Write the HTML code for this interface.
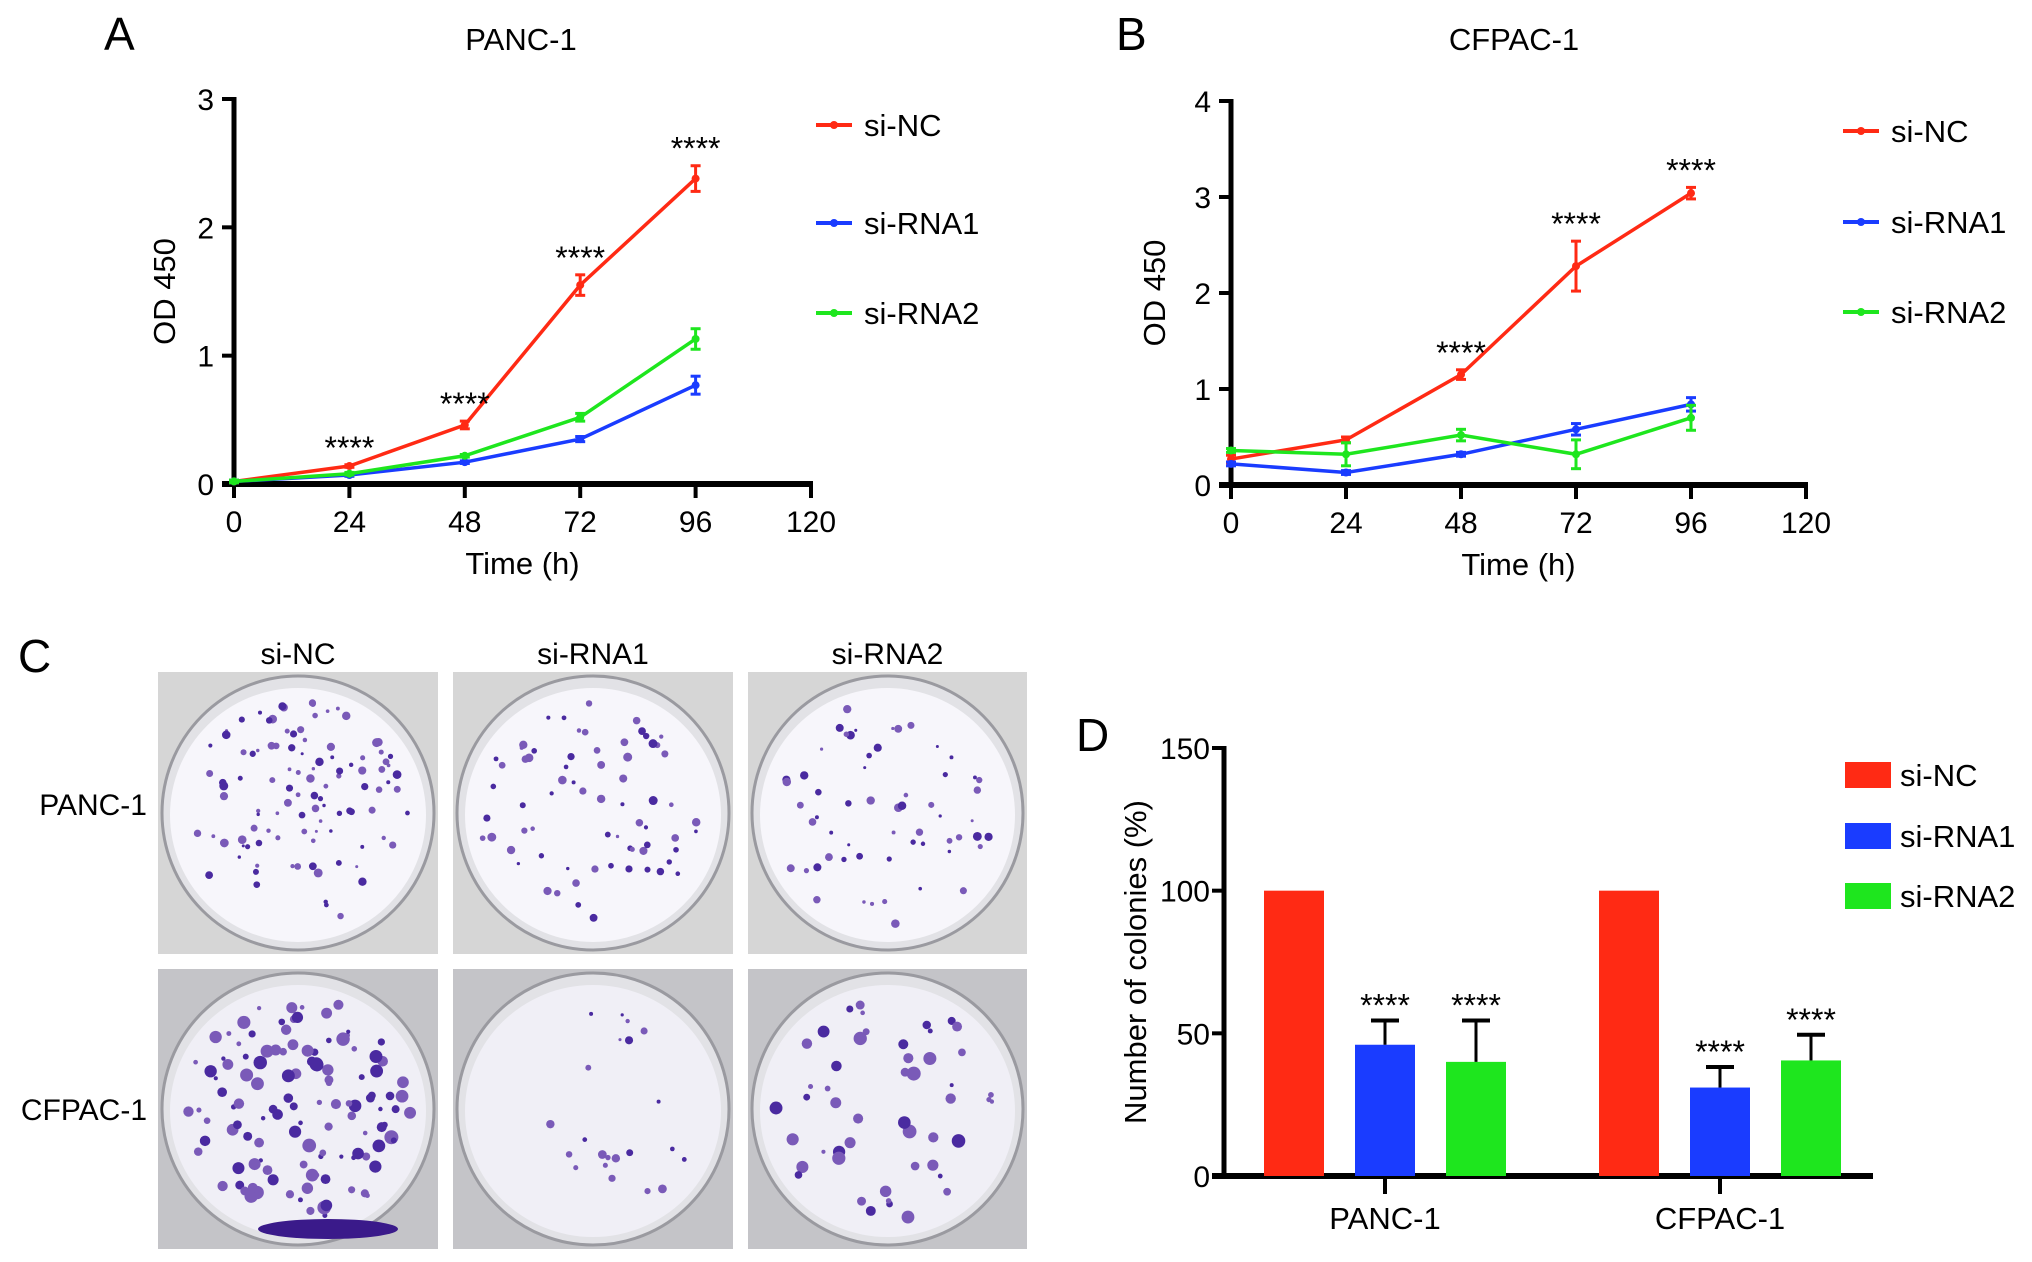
<!DOCTYPE html>
<html><head><meta charset="utf-8"><style>
html,body{margin:0;padding:0;background:#fff}
svg{display:block;font-family:"Liberation Sans",Arial,sans-serif}
</style></head><body>
<svg id="fig" width="2032" height="1262" viewBox="0 0 2032 1262" xmlns="http://www.w3.org/2000/svg">
<g id="pA"></g>
<g id="pB"></g>
<g id="pC"></g>
<g id="pD"></g>
</svg>
<script>
const timePoints=[0,24,48,72,96];
const xTicks=[0,24,48,72,96,120];
const seriesNames=["si-NC","si-RNA1","si-RNA2"];
const colors=["#ff2a14","#1a3cff","#1ee61e"];
const aNC=[0.02,0.14,0.46,1.55,2.38];
const aNCerr=[0.01,0.01,0.03,0.08,0.1];
const aR1=[0.02,0.07,0.17,0.35,0.77];
const aR1err=[0.01,0.01,0.01,0.02,0.07];
const aR2=[0.02,0.08,0.22,0.52,1.13];
const aR2err=[0.01,0.01,0.01,0.03,0.08];
const aStars=[24,48,72,96];
const aYTicks=[0,1,2,3];
const bNC=[0.27,0.47,1.15,2.28,3.04];
const bNCerr=[0.04,0.03,0.05,0.26,0.06];
const bR1=[0.22,0.13,0.32,0.58,0.84];
const bR1err=[0.02,0.02,0.02,0.06,0.07];
const bR2=[0.36,0.32,0.52,0.32,0.70];
const bR2err=[0.02,0.12,0.06,0.15,0.13];
const bStars=[48,72,96];
const bYTicks=[0,1,2,3,4];
const dGroups=["PANC-1","CFPAC-1"];
const dNC=[100,100];
const dR1=[46,31];
const dR1err=[8.5,7.2];
const dR2=[40,40.5];
const dR2err=[14.5,9];
const dYTicks=[0,50,100,150];

const NS="http://www.w3.org/2000/svg";
function mk(p,tag,at,txt){const e=document.createElementNS(NS,tag);for(const k in at)e.setAttribute(k,at[k]);if(txt!==undefined)e.textContent=txt;p.appendChild(e);return e;}

function linePanel(g,cfg){
  const X=v=>cfg.x0+(v-0)/120*(cfg.x1-cfg.x0);
  const Y=v=>cfg.y0-(v/cfg.ymax)*(cfg.y0-cfg.y1);
  let t=mk(g,'text',{x:cfg.letterX,y:50,'font-size':46},cfg.letter);
  
  
  t=mk(g,'text',{x:cfg.titleX,y:50,'font-size':31,'text-anchor':'middle'},cfg.title);
  
  
  const ax=mk(g,'g',{});
  
  
  mk(ax,'line',{x1:cfg.x0,y1:cfg.y1-2,x2:cfg.x0,y2:cfg.y0+3,stroke:'#000','stroke-width':5});
  mk(ax,'line',{x1:cfg.x0-12,y1:cfg.y0,x2:cfg.x1+2,y2:cfg.y0,stroke:'#000','stroke-width':6});
  cfg.yticks.forEach(v=>{
    mk(ax,'line',{x1:cfg.x0-12,y1:Y(v),x2:cfg.x0,y2:Y(v),stroke:'#000','stroke-width':4});
    const l=mk(ax,'text',{x:cfg.x0-20,y:Y(v)+11,'font-size':30,'text-anchor':'end'},v);
    
    
  });
  xTicks.forEach(v=>{
    mk(ax,'line',{x1:X(v),y1:cfg.y0,x2:X(v),y2:cfg.y0+14,stroke:'#000','stroke-width':4});
    const l=mk(ax,'text',{x:X(v),y:cfg.y0+48,'font-size':30,'text-anchor':'middle'},v);
    
    
  });
  t=mk(g,'text',{x:(cfg.x0+cfg.x1)/2,y:cfg.y0+90,'font-size':31,'text-anchor':'middle'},'Time (h)');
  
  
  const yc=(cfg.y0+cfg.y1)/2;
  t=mk(g,'text',{x:cfg.ytX,y:yc,'font-size':31,'text-anchor':'middle',transform:`rotate(-90 ${cfg.ytX} ${yc})`},'OD 450');
  
  
  cfg.series.forEach((s,i)=>{
    const sg=mk(g,'g',{});
    
    
    mk(sg,'polyline',{points:s.v.map((v,j)=>X(timePoints[j])+','+Y(v)).join(' '),fill:'none',stroke:colors[i],'stroke-width':3.5});
    s.v.forEach((v,j)=>{
      const x=X(timePoints[j]),e=s.e[j];
      mk(sg,'line',{x1:x,y1:Y(v+e),x2:x,y2:Y(v-e),stroke:colors[i],'stroke-width':3});
      mk(sg,'line',{x1:x-5,y1:Y(v+e),x2:x+5,y2:Y(v+e),stroke:colors[i],'stroke-width':3});
      mk(sg,'line',{x1:x-5,y1:Y(v-e),x2:x+5,y2:Y(v-e),stroke:colors[i],'stroke-width':3});
      const p=mk(sg,'circle',{cx:x,cy:Y(v),r:4,fill:colors[i]});
      
      
    });
  });
  const nc=cfg.series[0];
  cfg.stars.forEach(tp=>{
    const j=timePoints.indexOf(tp);
    const s=mk(g,'text',{x:X(tp),y:Y(nc.v[j]+nc.e[j])-6,'font-size':32,'text-anchor':'middle'},'****');
    
    
  });
  seriesNames.forEach((n,i)=>{
    const lg=mk(g,'g',{});
    
    
    const ly=cfg.legY[i];
    mk(lg,'line',{x1:cfg.legX,y1:ly,x2:cfg.legX+36,y2:ly,stroke:colors[i],'stroke-width':4});
    mk(lg,'circle',{cx:cfg.legX+18,cy:ly,r:4,fill:colors[i]});
    mk(lg,'text',{x:cfg.legX+48,y:ly+11,'font-size':31},n);
  });
}
linePanel(document.getElementById('pA'),{x0:234,x1:811,y0:484,y1:99,ymax:3,yticks:aYTicks,letter:'A',letterX:104,title:'PANC-1',titleX:521,ytX:175,
  legX:816,legY:[125,223,313],stars:aStars,
  series:[{v:aNC,e:aNCerr},{v:aR1,e:aR1err},{v:aR2,e:aR2err}]});
linePanel(document.getElementById('pB'),{x0:1231,x1:1806,y0:485,y1:101,ymax:4,yticks:bYTicks,letter:'B',letterX:1116,title:'CFPAC-1',titleX:1514,ytX:1165,
  legX:1843,legY:[131,222,312],stars:bStars,
  series:[{v:bNC,e:bNCerr},{v:bR1,e:bR1err},{v:bR2,e:bR2err}]});

// Panel C images
(function(){
  const g=document.getElementById('pC');
  let t=mk(g,'text',{x:18,y:672,'font-size':46},'C');
  
  
  const cols=[[158,438],[453,733],[748,1027]],rows=[[672,954],[969,1249]];
  seriesNames.forEach((n,i)=>{const l=mk(g,'text',{x:(cols[i][0]+cols[i][1])/2,y:664,'font-size':30,'text-anchor':'middle'},n);
    
    });
  [['PANC-1',815],['CFPAC-1',1120]].forEach(r=>{const l=mk(g,'text',{x:147,y:r[1],'font-size':30,'text-anchor':'end'},r[0]);
    
    });
  let seed=7;const rnd=()=>{seed=(seed*16807)%2147483647;return seed/2147483647;};
  const density=[[110,70,60],[120,22,50]];
  rows.forEach((r,ri)=>cols.forEach((c,ci)=>{
    const w=c[1]-c[0],h=r[1]-r[0];
    const im=mk(g,'g',{});
    
    
    mk(im,'rect',{x:c[0],y:r[0],width:w,height:h,fill:ri?'#c4c4c8':'#d6d6d6'});
    const cx=c[0]+w/2,cy=r[0]+h/2;
    mk(im,'ellipse',{cx:cx,cy:cy,rx:w/2-4,ry:h/2-4,fill:'#e2e2e6',stroke:'#9a9aa0','stroke-width':3});
    mk(im,'ellipse',{cx:cx,cy:cy+2,rx:w/2-12,ry:h/2-14,fill:ri?'#f0eff6':'#f7f6fb'});
    for(let k=0;k<density[ri][ci];k++){
      const a=rnd()*6.283,rr=Math.sqrt(rnd())*0.92;
      const sz=ri&&ci!==1?2+rnd()*5:1.5+rnd()*3;
      mk(im,'circle',{cx:cx+Math.cos(a)*rr*(w/2-16),cy:cy+Math.sin(a)*rr*(h/2-18),r:sz,fill:rnd()<0.5?'#4a2aa0':'#7a5ab8'});
    }
    if(ri===1&&ci===0)mk(im,'ellipse',{cx:cx+30,cy:r[1]-20,rx:70,ry:10,fill:'#3a1a8a'});
  }));
})();

// Panel D bars
(function(){
  const g=document.getElementById('pD');
  const x0=1224,x1=1873,y0=1176,y1=748;
  const Y=v=>y0-v/150*(y0-y1);
  const groupCenter=[1385,1720],bw=60,gap=91;
  let t=mk(g,'text',{x:1076,y:751,'font-size':46},'D');
  
  
  const ax=mk(g,'g',{});
  
  
  mk(ax,'line',{x1:x0,y1:y1-2,x2:x0,y2:y0+2,stroke:'#000','stroke-width':5});
  mk(ax,'line',{x1:x0-12,y1:y0,x2:x1,y2:y0,stroke:'#000','stroke-width':6});
  dYTicks.forEach(v=>{
    mk(ax,'line',{x1:x0-12,y1:Y(v),x2:x0,y2:Y(v),stroke:'#000','stroke-width':4});
    const l=mk(ax,'text',{x:x0-14,y:Y(v)+11,'font-size':30,'text-anchor':'end'},v);
    
    
  });
  t=mk(g,'text',{x:1146,y:962,'font-size':31,'text-anchor':'middle',transform:'rotate(-90 1146 962)'},'Number of colonies (%)');
  
  
  const vals=[dNC,dR1,dR2],errs=[null,dR1err,dR2err];
  dGroups.forEach((gname,gi)=>{
    const c=groupCenter[gi];
    mk(ax,'line',{x1:c,y1:y0,x2:c,y2:y0+18,stroke:'#000','stroke-width':4});
    const l=mk(g,'text',{x:c,y:1229,'font-size':31,'text-anchor':'middle'},gname);
    
    
    vals.forEach((arr,si)=>{
      const bx=c+(si-1)*gap-bw/2,v=arr[gi];
      const b=mk(g,'rect',{x:bx,y:Y(v),width:bw,height:y0-Y(v),fill:colors[si]});
      
      
      if(errs[si]){
        const e=errs[si][gi],xc=bx+bw/2;
        mk(g,'line',{x1:xc,y1:Y(v),x2:xc,y2:Y(v+e),stroke:'#000','stroke-width':3});
        mk(g,'line',{x1:xc-14,y1:Y(v+e),x2:xc+14,y2:Y(v+e),stroke:'#000','stroke-width':4});
        const s=mk(g,'text',{x:xc,y:Y(v+e)-4,'font-size':32,'text-anchor':'middle'},'****');
        
        
      }
    });
  });
  [775,836,896].forEach((ly,i)=>{
    const lg=mk(g,'g',{});
    
    
    mk(lg,'rect',{x:1845,y:ly-13,width:46,height:26,fill:colors[i]});
    mk(lg,'text',{x:1900,y:ly+11,'font-size':31},seriesNames[i]);
  });
})();
</script>
</body></html>
